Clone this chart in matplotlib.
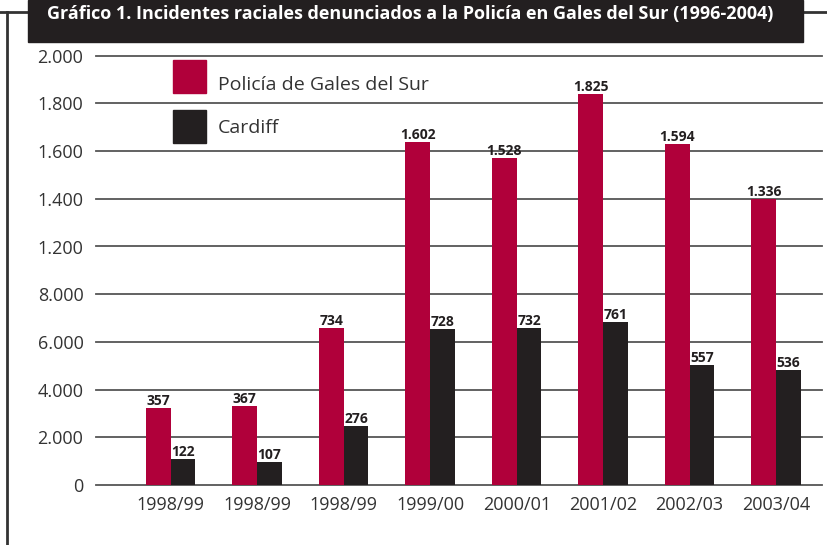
import matplotlib
matplotlib.use('Agg')
from matplotlib import pyplot as plt
from matplotlib.patches import Rectangle
from matplotlib.lines import Line2D
import numpy as np

plt.rcParams['font.family'] = ['Open Sans', 'DejaVu Sans']

W, H = 827, 545

periods = ['1998/99', '1998/99', '1998/99', '1999/00', '2000/01', '2001/02', '2002/03', '2003/04']
# bar heights as drawn against the (oddly labelled) axis
south_wales = [3240, 3320, 6580, 14380, 13720, 16400, 14300, 12000]
cardiff = [1090, 960, 2480, 6540, 6580, 6840, 5040, 4820]
# printed value labels
south_wales_labels = ['357', '367', '734', '1.602', '1.528', '1.825', '1.594', '1.336']
cardiff_labels = ['122', '107', '276', '728', '732', '761', '557', '536']
ytick_values = [0, 2000, 4000, 6000, 8000, 10000, 12000, 14000, 16000, 18000]
ytick_labels = ['0', '2.000', '4.000', '6.000', '8.000', '1.200', '1.400', '1.600', '1.800', '2.000']
series_names = ['Policía de Gales del Sur', 'Cardiff']

red = '#B0003A'
black = '#231F20'
grey = '#555555'


def px(x, y):
    return x / W, 1 - y / H


fig = plt.figure(figsize=(W / 100, H / 100), dpi=100)
ax = fig.add_axes([96 / W, (H - 485) / H, (822 - 96) / W, (485 - 55.7) / H])

x = np.arange(len(periods))
w = 0.286
ax.bar(x - w / 2, south_wales, w, color=red, zorder=3)
ax.bar(x + w / 2, cardiff, w, color=black, zorder=3)

for v in ytick_values:
    ax.axhline(v, color=grey, lw=1.3, zorder=1, clip_on=False)

for xi, h, lbl in zip(x, south_wales, south_wales_labels):
    ax.annotate(lbl, (xi - w / 2, h), xytext=(0, 2), textcoords='offset points',
                ha='center', va='baseline', fontsize=10, fontweight='bold', color=black)
for xi, h, lbl in zip(x, cardiff, cardiff_labels):
    ax.annotate(lbl, (xi + w / 2, h), xytext=(0, 2), textcoords='offset points',
                ha='center', va='baseline', fontsize=10, fontweight='bold', color=black)

ax.set_xlim(-0.864, 7.53)
ax.set_ylim(0, 18000)
ax.set_yticks(ytick_values, ytick_labels)
ax.set_xticks(x, periods)
ax.tick_params(length=0, labelsize=13, colors='#333333')
ax.tick_params(axis='y', pad=9)
ax.tick_params(axis='x', pad=8)
for s in ax.spines.values():
    s.set_visible(False)

# legend
for (top, col, name, base) in [(60, red, series_names[0], 90), (110, black, series_names[1], 133)]:
    fig.patches.append(Rectangle(px(173, top + 33), 33 / W, 33 / H, transform=fig.transFigure,
                                 color=col, figure=fig))
    fig.text(*px(218, base), name, fontsize=14, color='#333333', va='baseline', ha='left')

# frame
for xs, ys in [([0, 28], [12, 12]), ([803, W], [12, 12]), ([7, 7], [12, H])]:
    fig.lines.append(Line2D([a / W for a in xs], [1 - b / H for b in ys],
                            transform=fig.transFigure, color='#333333', lw=2, figure=fig))

# title box
fig.patches.append(Rectangle(px(28, 42), (803 - 28) / W, 42 / H, transform=fig.transFigure,
                             color=black, figure=fig, zorder=5))
fig.text(*px(410, 14), 'Gráfico 1. Incidentes raciales denunciados a la Policía en Gales del Sur (1996-2004)',
         color='white', fontsize=13, fontweight='bold', ha='center', va='center', zorder=6)

fig.savefig('out.png', dpi=100)
